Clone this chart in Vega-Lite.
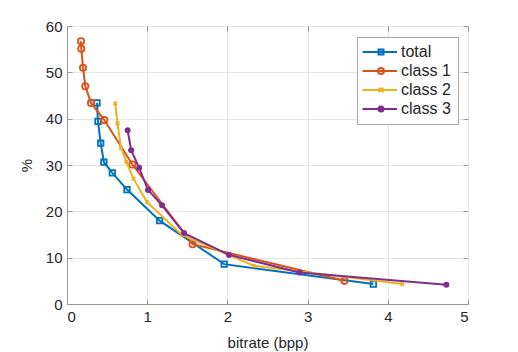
{
  "$schema": "https://vega.github.io/schema/vega-lite/v6.json",
  "autosize": "none",
  "padding": {"left": 67, "top": 26, "right": 50, "bottom": 48},
  "width": 401,
  "height": 278,
  "config": {
    "font": "Liberation Sans",
    "view": {"stroke": "#999999", "strokeWidth": 1},
    "axis": {
      "labelFont": "Liberation Sans",
      "titleFont": "Liberation Sans",
      "labelFontSize": 15,
      "titleFontSize": 15,
      "titleFontWeight": "normal",
      "labelColor": "#262626",
      "titleColor": "#262626",
      "domainColor": "#999999",
      "tickColor": "#999999",
      "gridColor": "#e6e6e6",
      "tickSize": -5,
      "labelPadding": 10
    },
    "legend": {
      "labelFont": "Liberation Sans",
      "labelFontSize": 16,
      "labelColor": "#262626"
    }
  },
  "data": {
    "values": [
      {"series": "total", "bitrate": 0.374, "pct": 43.4},
      {"series": "total", "bitrate": 0.386, "pct": 39.4},
      {"series": "total", "bitrate": 0.42, "pct": 34.7},
      {"series": "total", "bitrate": 0.46, "pct": 30.6},
      {"series": "total", "bitrate": 0.565, "pct": 28.3},
      {"series": "total", "bitrate": 0.748, "pct": 24.7},
      {"series": "total", "bitrate": 1.155, "pct": 18.0},
      {"series": "total", "bitrate": 1.96, "pct": 8.6},
      {"series": "total", "bitrate": 3.82, "pct": 4.3},
      {"series": "class 1", "bitrate": 0.175, "pct": 56.7},
      {"series": "class 1", "bitrate": 0.178, "pct": 55.1},
      {"series": "class 1", "bitrate": 0.2, "pct": 51.0},
      {"series": "class 1", "bitrate": 0.228, "pct": 47.0},
      {"series": "class 1", "bitrate": 0.3, "pct": 43.4},
      {"series": "class 1", "bitrate": 0.465, "pct": 39.7},
      {"series": "class 1", "bitrate": 0.816, "pct": 30.1},
      {"series": "class 1", "bitrate": 1.566, "pct": 12.9},
      {"series": "class 1", "bitrate": 3.46, "pct": 5.0},
      {"series": "class 2", "bitrate": 0.602, "pct": 43.3},
      {"series": "class 2", "bitrate": 0.63, "pct": 39.0},
      {"series": "class 2", "bitrate": 0.673, "pct": 33.7},
      {"series": "class 2", "bitrate": 0.74, "pct": 30.7},
      {"series": "class 2", "bitrate": 0.83, "pct": 27.0},
      {"series": "class 2", "bitrate": 0.997, "pct": 22.0},
      {"series": "class 2", "bitrate": 1.434, "pct": 14.9},
      {"series": "class 2", "bitrate": 2.33, "pct": 8.25},
      {"series": "class 2", "bitrate": 4.18, "pct": 4.3},
      {"series": "class 3", "bitrate": 0.756, "pct": 37.5},
      {"series": "class 3", "bitrate": 0.8, "pct": 33.2},
      {"series": "class 3", "bitrate": 0.9, "pct": 29.4},
      {"series": "class 3", "bitrate": 1.01, "pct": 24.6},
      {"series": "class 3", "bitrate": 1.185, "pct": 21.3},
      {"series": "class 3", "bitrate": 1.46, "pct": 15.3},
      {"series": "class 3", "bitrate": 2.02, "pct": 10.6},
      {"series": "class 3", "bitrate": 2.9, "pct": 6.8},
      {"series": "class 3", "bitrate": 4.73, "pct": 4.15}
    ]
  },
  "resolve": {"axis": {"x": "independent", "y": "independent"}},
  "layer": [
    {
      "transform": [{"filter": "datum.series === 'total'"}],
      "mark": {"type": "line", "color": "#0072BD", "strokeWidth": 2,
        "point": {"shape": "square", "filled": false, "color": "#0072BD", "size": 30, "strokeWidth": 1.8, "opacity": 1}},
      "encoding": {
        "x": {
          "field": "bitrate", "type": "quantitative",
          "scale": {"domain": [0, 5], "nice": false, "zero": false},
          "axis": {"title": "bitrate (bpp)", "orient": "bottom", "values": [0, 1, 2, 3, 4, 5], "titlePadding": 11}
        },
        "y": {
          "field": "pct", "type": "quantitative",
          "scale": {"domain": [0, 60], "nice": false},
          "axis": {"title": "%", "orient": "left", "values": [0, 10, 20, 30, 40, 50, 60], "titlePadding": 11}
        }
      }
    },
    {
      "transform": [{"filter": "datum.series === 'class 1'"}],
      "mark": {"type": "line", "color": "#D95319", "strokeWidth": 2,
        "point": {"shape": "circle", "filled": false, "color": "#D95319", "size": 40, "strokeWidth": 1.8, "opacity": 1}},
      "encoding": {
        "x": {"field": "bitrate", "type": "quantitative", "axis": null},
        "y": {"field": "pct", "type": "quantitative", "axis": null}
      }
    },
    {
      "transform": [{"filter": "datum.series === 'class 2'"}],
      "mark": {"type": "line", "color": "#EDB120", "strokeWidth": 2,
        "point": {"shape": "M-1,-1L1,1M-1,1L1,-1", "filled": false, "color": "#EDB120", "size": 12, "strokeWidth": 1.8, "opacity": 1}},
      "encoding": {
        "x": {"field": "bitrate", "type": "quantitative", "axis": null},
        "y": {"field": "pct", "type": "quantitative", "axis": null}
      }
    },
    {
      "transform": [{"filter": "datum.series === 'class 3'"}],
      "mark": {"type": "line", "color": "#7E2F8E", "strokeWidth": 2,
        "point": {"shape": "circle", "filled": true, "color": "#7E2F8E", "size": 36, "opacity": 1}},
      "encoding": {
        "x": {"field": "bitrate", "type": "quantitative", "axis": null},
        "y": {"field": "pct", "type": "quantitative", "axis": null}
      }
    },
    {
      "transform": [{"filter": "datum.pct < 0"}],
      "mark": {"type": "point", "filled": false, "opacity": 1, "strokeWidth": 2},
      "encoding": {
        "x": {"field": "bitrate", "type": "quantitative",
          "axis": {"orient": "top", "labels": false, "title": null, "grid": false, "domain": false, "values": [0, 1, 2, 3, 4, 5]}},
        "y": {"field": "pct", "type": "quantitative",
          "axis": {"orient": "right", "labels": false, "title": null, "grid": false, "domain": false, "values": [0, 10, 20, 30, 40, 50, 60]}},
        "stroke": {
          "field": "series", "type": "nominal",
          "scale": {"domain": ["total", "class 1", "class 2", "class 3"], "range": ["#0072BD", "#D95319", "#EDB120", "#7E2F8E"]}
        },
        "fill": {
          "field": "series", "type": "nominal",
          "scale": {"domain": ["total", "class 1", "class 2", "class 3"], "range": ["rgba(0,114,189,0.3)", "transparent", "transparent", "#7E2F8E"]}
        },
        "shape": {
          "field": "series", "type": "nominal",
          "scale": {
            "domain": ["total", "class 1", "class 2", "class 3"],
            "range": [
              "M-3.7,0H3.2M-0.5,-0.5H0.5V0.5H-0.5Z",
              "M-3.7,0H3.2M-0.6,0A0.6,0.6 0 1,0 0.6,0A0.6,0.6 0 1,0 -0.6,0Z",
              "M-3.7,0H3.2M-0.45,-0.45L0.45,0.45M-0.45,0.45L0.45,-0.45",
              "M-3.7,0H3.2M-0.5,0A0.5,0.5 0 1,0 0.5,0A0.5,0.5 0 1,0 -0.5,0Z"
            ]
          },
          "legend": {
            "title": null,
            "orient": "none",
            "legendX": 290,
            "legendY": 11,
            "padding": 7,
            "strokeColor": "#a8a8a8",
            "fillColor": "white",
            "symbolSize": 100,
            "symbolStrokeWidth": 2,
            "symbolOffset": 9,
            "labelOffset": 12,
            "rowPadding": 3
          }
        }
      }
    }
  ]
}
